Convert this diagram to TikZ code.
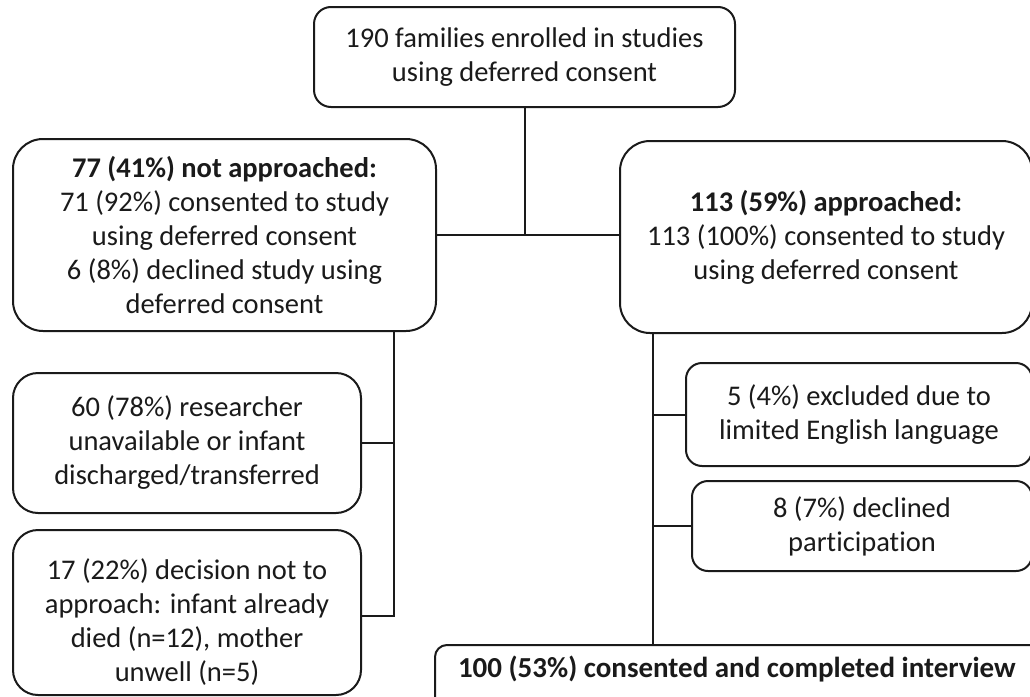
\documentclass[tikz,border=0pt]{standalone}
\usepackage{fontspec}
\setmainfont{Carlito}[Ligatures=NoCommon]
\usetikzlibrary{calc}
\definecolor{ln}{HTML}{1A1A1A}
\begin{document}
\begin{tikzpicture}[x=1pt,y=-1pt,
  box/.style={draw=ln, line width=2pt, fill=white, align=center, inner sep=0pt,
    text=ln, font=\fontsize{28.5pt}{34pt}\selectfont},
  conn/.style={draw=ln, line width=2pt}]
\useasboundingbox (0,0) rectangle (1030,696);
\fill[white] (0,0) rectangle (1030,696);
\clip (0,0) rectangle (1030,696);

\node[box, rounded corners=17pt, minimum width=421pt, minimum height=100pt] (top) at (524.5,57)
  {190 families enrolled in studies\\using deferred consent};

\node[box, rounded corners=30pt, minimum width=423pt, minimum height=192pt] (na) at (224.5,235)
  {\textbf{77 (41\%) not approached:}\\71 (92\%) consented to study\\using deferred consent\\6 (8\%) declined study using\\deferred consent};

\node[box, rounded corners=30pt, minimum width=412pt, minimum height=192pt] (ap) at (826,237)
  {\textbf{113 (59\%) approached:}\\113 (100\%) consented to study\\using deferred consent};

\node[box, rounded corners=25pt, minimum width=348pt, minimum height=140pt] (b60) at (187,443)
  {60 (78\%) researcher\\unavailable or infant\\discharged/transferred};

\node[box, rounded corners=25pt, minimum width=348pt, minimum height=165pt] (b17) at (187,612.5)
  {\rule{0pt}{39pt}17 (22\%) decision not to\\approach: infant already\\died (n=12), mother\\unwell (n=5)};

\node[box, rounded corners=16pt, minimum width=346pt, minimum height=103pt] (b5) at (859,414.5)
  {5 (4\%) excluded due to\\limited English language};

\node[box, rounded corners=16pt, minimum width=340pt, minimum height=90pt] (b8) at (862,526)
  {8 (7\%) declined\\participation};

\node[box, rounded corners=12pt, anchor=base west, font=\fontsize{29pt}{34pt}\selectfont,
  inner xsep=23pt, inner ysep=0pt, text height=32pt, text depth=40pt] (bot) at (434,677)
  {\makebox[590pt][l]{\textbf{100 (53\%) consented and completed interview}}};

\coordinate (jl) at (394,616);
\coordinate (jr) at (653,0);

\draw[conn] (top.south) -- (top.south |- na.east);
\draw[conn] (na.east) -- (na.east -| ap.west);

\draw[conn] (na.south -| jl) -- (jl) -- (jl -| b17.east);
\draw[conn] (b60.east) -- (b60.east -| jl);

\draw[conn] (ap.south -| jr) -- (bot.north -| jr);
\draw[conn] (b5.west) -- (b5.west -| jr);
\draw[conn] (b8.west) -- (b8.west -| jr);
\end{tikzpicture}
\end{document}
